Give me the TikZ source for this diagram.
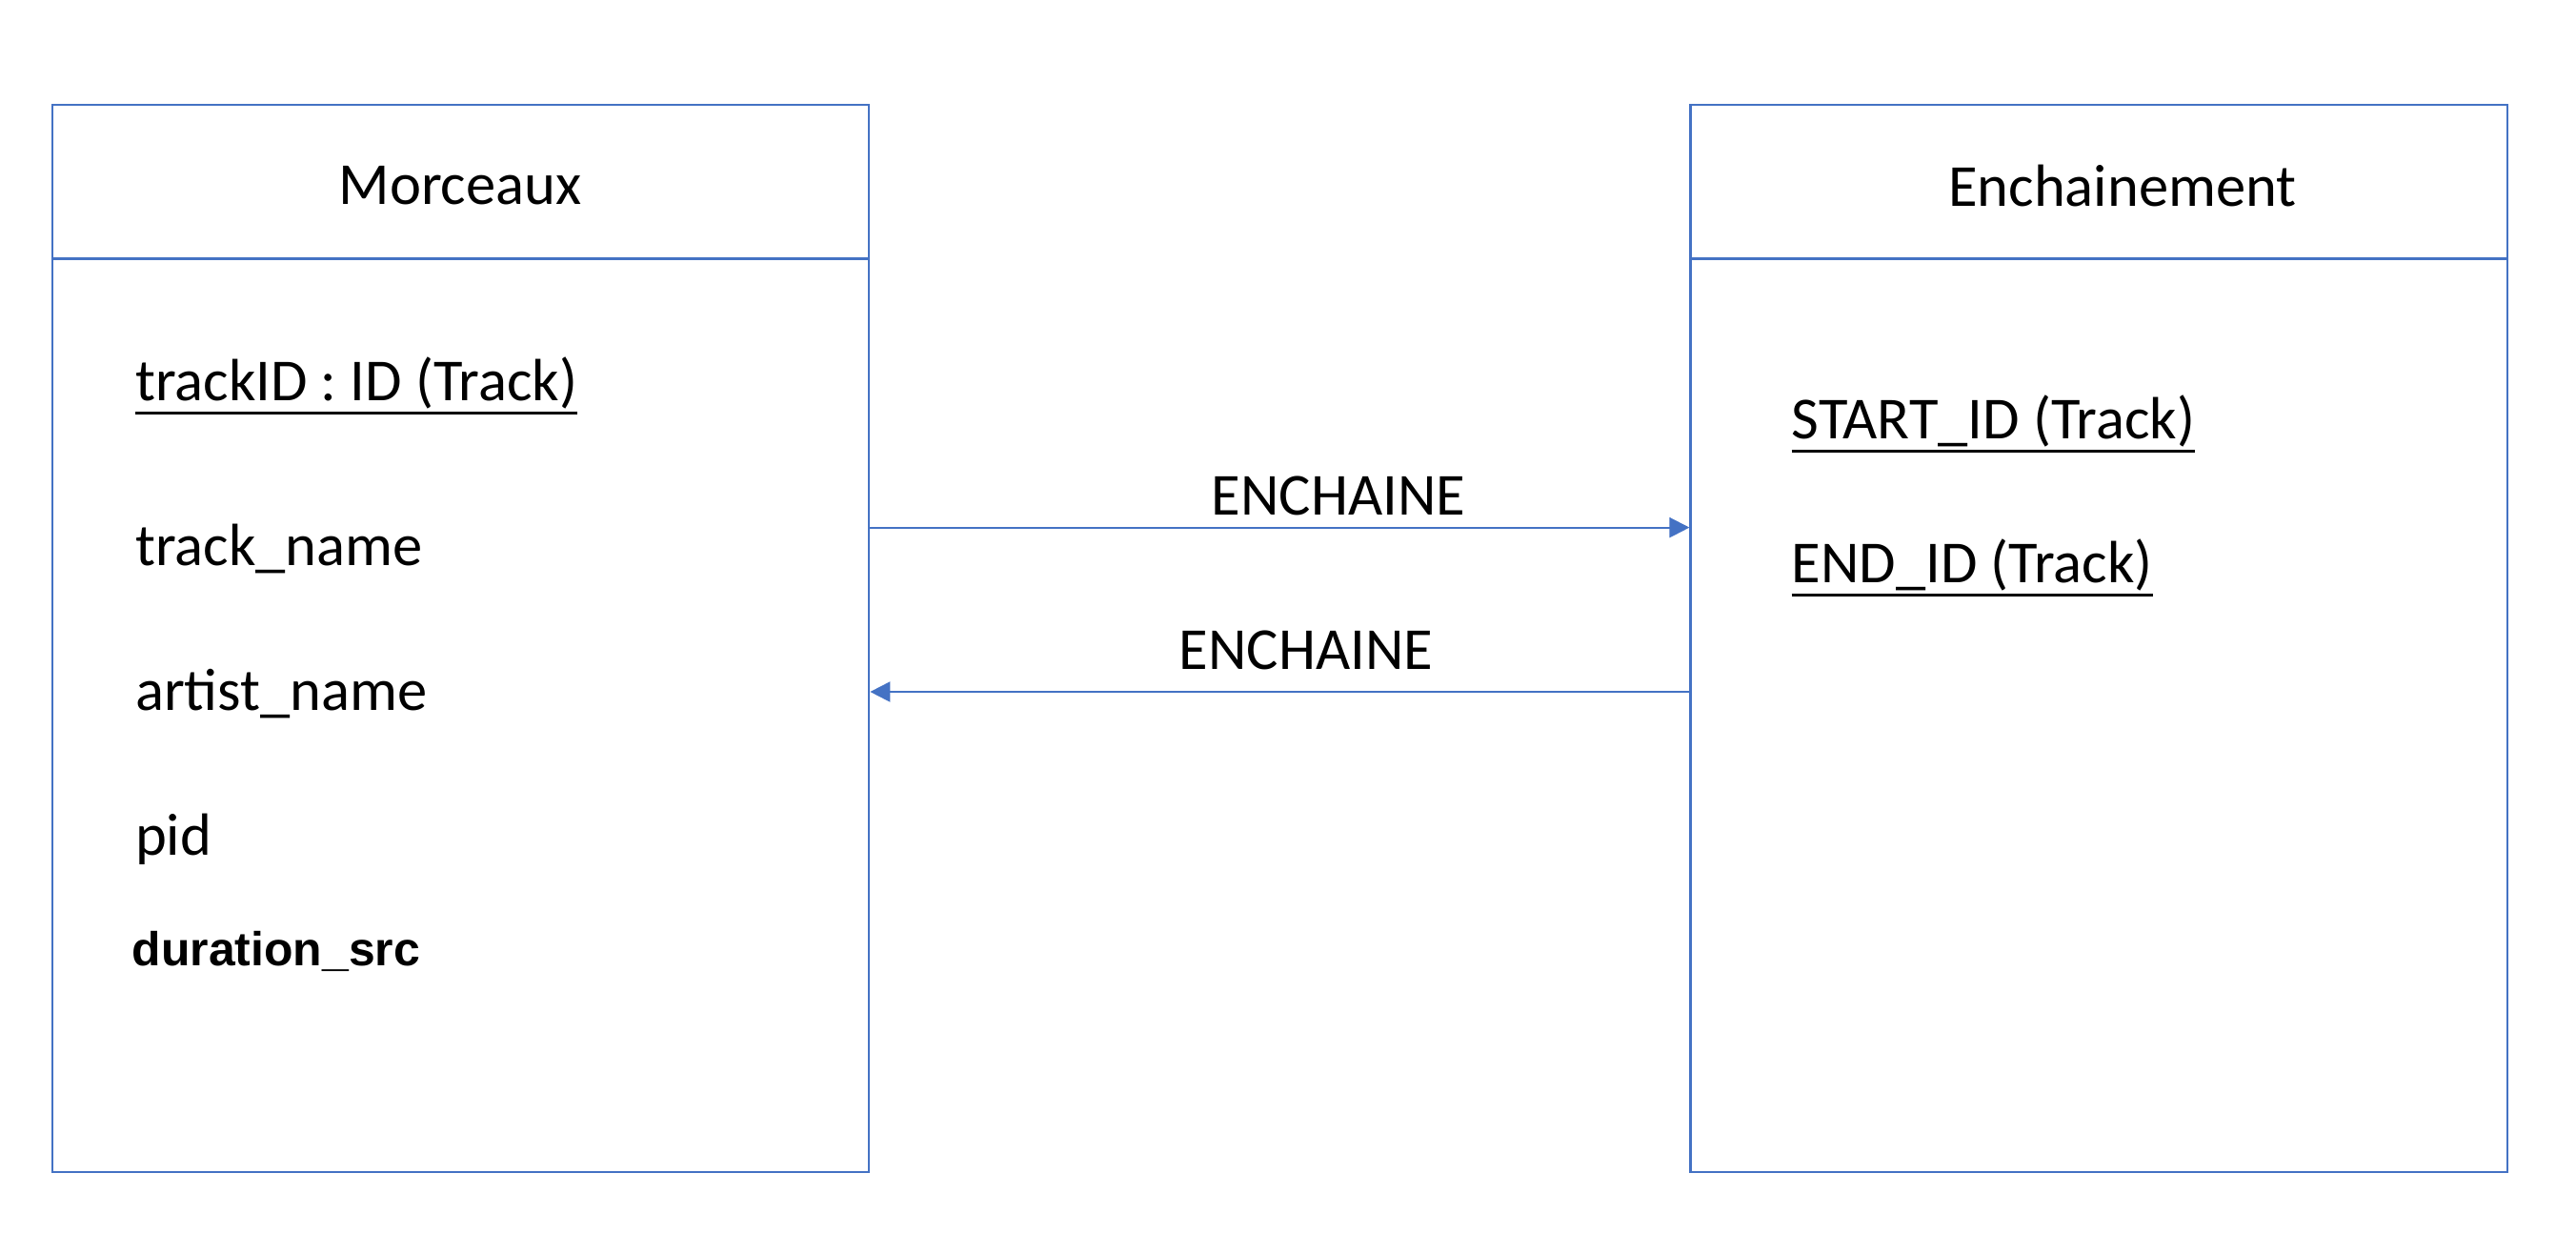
\documentclass[tikz,border=0pt]{standalone}
\usepackage{fontspec}
\setmainfont{Carlito}
\newfontfamily\arialfont{Liberation Sans}
\usepackage{xcolor}
\usepackage{tikz}
\usetikzlibrary{arrows.meta}
\usetikzlibrary{positioning}
\definecolor{lineblue}{HTML}{4472C4}
\newcommand{\keyattr}[1]{\setbox0\hbox{#1}\rlap{\rule[-\dimexpr\dp0+1.6pt\relax]{\wd0}{1pt}}\box0}

\begin{document}
\begin{tikzpicture}[entity/.style={draw=lineblue,
        line width=0.6pt,
        minimum width=8.571cm,
        minimum height=11.192cm,
        inner sep=0pt},
        title/.style={font=\fontsize{17.8}{21}\selectfont, inner sep=0pt},
        attr/.style={anchor=west, inner sep=0pt, font=\fontsize{17.8}{21}\selectfont},
        rel/.style={inner sep=0pt, font=\fontsize{17.8}{21}\selectfont},
        >={Triangle[length=6pt, width=6pt]}]
        \useasboundingbox (0,0) rectangle (27.04,-13.16);
        \node[entity] (morceaux) at (4.8375,-6.7) {};
        \node[entity] (enchainement) at (22.0305,-6.7) {};
        \draw[lineblue, line width=0.6pt] ([yshift=-1.621cm]morceaux.north west) -- ([yshift=-1.621cm]morceaux.north east);
        \draw[lineblue, line width=0.6pt] ([yshift=-1.621cm]enchainement.north west) -- ([yshift=-1.621cm]enchainement.north east);
        \node[title] (t1) at (4.83,-1.95) {Morceaux};
        \node[title] (t2) at (22.28,-1.95) {Enchainement};
        % attributs
        \node[attr] (trackid) at (1.414,-4.05) {\keyattr{trackID : ID (Track)}};
        \node[attr] (trackname) at (1.414,-5.76) {track\_name};
        \node[attr] (artistname) at (1.414,-7.28) {artist\_name};
        \node[attr] (pid) at (1.414,-8.81) {pid};
        \node[attr, font=\arialfont\bfseries\fontsize{14.2}{17}\selectfont] (duration) at (1.38,-9.98) {duration\_src};
        \node[attr] (startid) at (18.8,-4.45) {\keyattr{START\_ID (Track)}};
        \node[attr] (endid) at (18.8,-5.96) {\keyattr{END\_ID (Track)}};
        % relations
        \draw[->, lineblue, line width=0.6pt] ([yshift=1.164cm]morceaux.east) -- ([yshift=1.164cm]enchainement.west);
        \draw[->, lineblue, line width=0.6pt] ([yshift=-0.56cm]enchainement.west) -- ([yshift=-0.56cm]morceaux.east);
        \node[rel] (r1) at (14.05,-5.2) {ENCHAINE};
        \node[rel] (r2) at (13.71,-6.82) {ENCHAINE};
    \end{tikzpicture}
\end{document}
